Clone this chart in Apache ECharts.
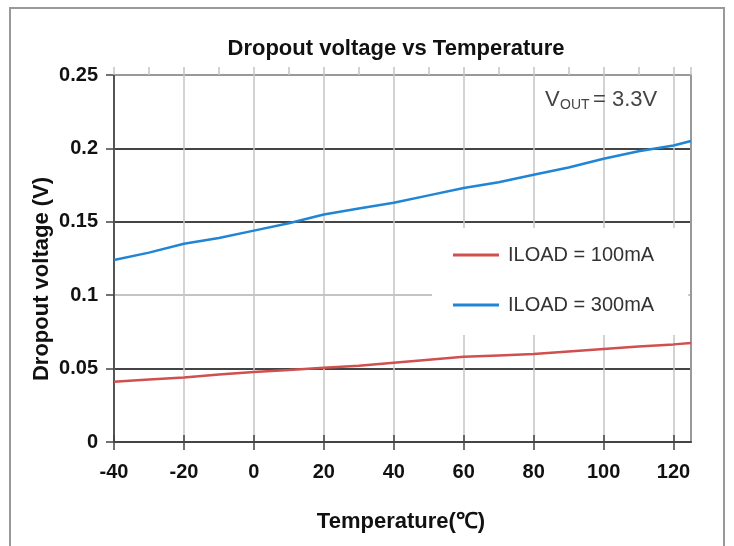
<!DOCTYPE html>
<html><head><meta charset="utf-8">
<script src="https://cdn.jsdelivr.net/npm/echarts@6/dist/echarts.min.js"></script>
<style>html,body{margin:0;padding:0;background:#fff}#c{width:734px;height:546px}</style>
</head><body><div id="c"></div>
<script>
const temperatures = [-40,-30,-20,-10,0,10,20,30,40,50,60,70,80,90,100,110,120,125];
const dropout100mA = [0.041,0.0425,0.044,0.046,0.0477,0.049,0.0505,0.052,0.054,0.056,0.058,0.059,0.060,0.0617,0.0634,0.065,0.0665,0.0674];
const dropout300mA = [0.124,0.129,0.135,0.139,0.144,0.149,0.155,0.159,0.163,0.168,0.173,0.177,0.182,0.187,0.193,0.198,0.202,0.205];
const xTickLabels = [-40,-20,0,20,40,60,80,100,120];
const yTickLabels = [0,0.05,0.1,0.15,0.2,0.25];
const seriesNames = ['ILOAD = 100mA','ILOAD = 300mA'];
const titleText = 'Dropout voltage vs Temperature';
const xName = 'Temperature(℃)';
const yName = 'Dropout voltage (V)';

const FF = '"Liberation Sans", Arial, sans-serif';
const chart = echarts.init(document.getElementById('c'), null, {renderer:'canvas'});
const toPairs = (ys) => temperatures.map((t,i)=>[t, ys[i]]);

chart.setOption({
  animation:false,
  backgroundColor:'#fff',
  title:{text:titleText, left:391, top:33, textAlign:'center',
    textStyle:{fontFamily:FF, fontSize:22, fontWeight:'bold', color:'#111'}},
  grid:{left:114, right:43, top:75, bottom:104, containLabel:false},
  xAxis:[
    {type:'value', min:-40, max:125, interval:10, position:'bottom',
      axisLine:{show:true, onZero:false, lineStyle:{color:'#444', width:2}},
      axisTick:{show:true, inside:false, length:8, customValues:xTickLabels, lineStyle:{color:'#444', width:1.5}},
      axisLabel:{customValues:xTickLabels, margin:20, fontFamily:FF, fontSize:20, fontWeight:'bold', color:'#111'},
      splitLine:{show:true, lineStyle:{color:'#c4c4c4', width:1.5}}},
    {type:'value', min:-40, max:125, interval:10, position:'bottom',
      axisLine:{show:false, onZero:false},
      axisTick:{show:true, inside:true, length:7, customValues:xTickLabels, lineStyle:{color:'#444', width:1.5}},
      axisLabel:{show:false}, splitLine:{show:false}},
    {type:'value', min:-40, max:125, interval:10, position:'top',
      axisLine:{show:false, onZero:false},
      axisTick:{show:true, inside:false, length:8, lineStyle:{color:'#c4c4c4', width:1.5}},
      axisLabel:{show:false}, splitLine:{show:false}}
  ],
  yAxis:[
    {type:'value', min:0, max:0.25, interval:0.05, position:'left',
      axisLine:{show:true, onZero:false, lineStyle:{color:'#555', width:2}},
      axisTick:{show:true, inside:false, length:8, lineStyle:{color:'#444', width:1.5}},
      axisLabel:{margin:16, fontFamily:FF, fontSize:20, fontWeight:'bold', color:'#111',
        formatter:(v)=>String(yTickLabels.find(t=>Math.abs(t-v)<1e-9) ?? v)},
      splitLine:{show:true, lineStyle:{color:['#444','#444','#c4c4c4','#444','#444','#999'], width:2}}},
    {type:'value', min:0, max:0.25, interval:0.05, position:'right',
      axisLine:{show:true, onZero:false, lineStyle:{color:'#999', width:2}},
      axisTick:{show:false}, axisLabel:{show:false}, splitLine:{show:false}}
  ],
  legend:{orient:'vertical', left:432, top:228, padding:[17,34,20,21], itemGap:30,
    itemWidth:46, itemHeight:3, icon:'rect', backgroundColor:'#fff', selectedMode:false,
    textStyle:{fontFamily:FF, fontSize:20, color:'#333', padding:[0,0,0,4]}, data:seriesNames},
  series:[
    {name:seriesNames[0], type:'line', xAxisIndex:0, yAxisIndex:0, data:toPairs(dropout100mA), symbol:'none', color:'#d0504f', lineStyle:{width:2.5}, z:3},
    {name:seriesNames[1], type:'line', xAxisIndex:0, yAxisIndex:0, data:toPairs(dropout300mA), symbol:'none', color:'#2185d5', lineStyle:{width:2.5}, z:3}
  ],
  graphic:[
    {type:'rect', shape:{x:10, y:8, width:714, height:600}, style:{fill:'none', stroke:'#999', lineWidth:2}, z:-10, silent:true},
    {type:'text', x:42, y:279, rotation:Math.PI/2, style:{text:yName, font:'bold 22px '+FF, fill:'#111', align:'center', verticalAlign:'middle'}},
    {type:'text', x:401, y:522, style:{text:xName, font:'bold 22px '+FF, fill:'#111', align:'center', verticalAlign:'middle'}},
    {type:'text', x:545, y:100, z:10, style:{text:'V', font:'22px '+FF, fill:'#444', align:'left', verticalAlign:'middle'}},
    {type:'text', x:560, y:105, z:10, style:{text:'OUT', font:'14px '+FF, fill:'#444', align:'left', verticalAlign:'middle'}},
    {type:'text', x:593, y:100, z:10, style:{text:'= 3.3V', font:'22px '+FF, fill:'#444', align:'left', verticalAlign:'middle'}}
  ]
});
</script></body></html>
